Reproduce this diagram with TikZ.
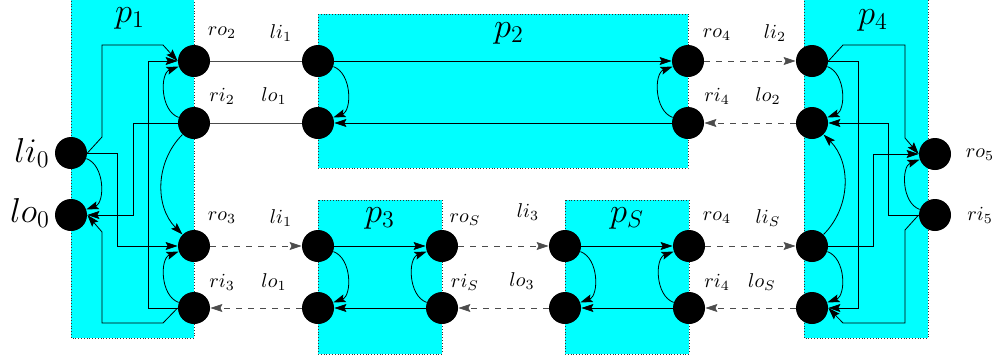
\documentclass[tikz,border=0pt]{standalone}
\usetikzlibrary{arrows.meta}
\definecolor{aqua}{RGB}{0,255,255}
\begin{document}
\begin{tikzpicture}[>={Stealth[length=6pt,width=4pt,inset=1pt]}, x=0.5pt, y=-0.5pt,
    port/.style={circle, fill=black, inner sep=0pt, minimum size=16pt},
    proc/.style={fill=aqua, draw=black!80, densely dotted},
    link/.style={->, dashed, black!70}]
  \useasboundingbox (0,0) rectangle (996,360);

  % processes
  \foreach \n/\xa/\ya/\xb/\yb/\lx/\ly in {1/71/-2/194/338/130/18, 2/318/14/688/168/509/33,
      3/318/200/442/354/380/218, S/565/200/689/354/627/218, 4/804/-2/928/338/873/20} {
    \draw[proc] (\xa,\ya) rectangle (\xb,\yb);
    \node (p\n) at (\lx,\ly) {\LARGE $p_\n$};
  }

  % ports
  \foreach \name/\x/\y in {li0/71/153, lo0/71/215, ro2/194/61, ri2/194/123, ro3/194/246, ri3/194/308,
      li1/318/61, lo1/318/123, ro4/688/61, ri4/688/123,
      li1b/318/246, lo1b/318/308, roS/442/246, riS/442/308,
      li3/565/246, lo3/565/308, ro4b/689/246, ri4b/689/308,
      li2/812/61, lo2/812/123, liS/812/246, loS/812/308, ro5/935/154, ri5/935/215}
    \node[port] (\name) at (\x,\y) {};

  % port names
  \node (tli0) at (32,153) {\LARGE $li_0$};
  \node (tlo0) at (30,213) {\LARGE $lo_0$};
  \foreach \x/\y/\t [count=\i] in {222/33/ro_2, 281/33/li_1, 222/96/ri_2, 274/96/lo_1,
      222/218/ro_3, 281/218/li_1, 222/282/ri_3, 274/282/lo_1,
      465/220/ro_S, 528/212/li_3, 465/282/ri_S, 522/281/lo_3,
      717/35/ro_4, 775/33/li_2, 717/96/ri_4, 768/96/lo_2,
      717/218/ro_4, 768/218/li_S, 717/282/ri_4, 762/282/lo_S,
      980/155/ro_5, 980/215/ri_5}
    \node (t\i) at (\x,\y) {$\t$};

  % between processes
  \draw[black!70] (ro2) -- (li1);
  \draw[black!70] (ri2) -- (lo1);
  \foreach \pa/\pb in {ro3/li1b, lo1b/ri3, roS/li3, lo3/riS, ro4b/liS, loS/ri4b, ro4/li2, lo2/ri4}
    \draw[link] (\pa) -- (\pb);

  % inside p2, p3 and pS
  \foreach \pa/\pb/\pc/\pd in {li1/lo1/ro4/ri4, li1b/lo1b/roS/riS, li3/lo3/ro4b/ri4b} {
    \draw[->] (\pa) -- (\pc);
    \draw[->] (\pd) -- (\pb);
    \draw[->] (\pa) to[bend left=70] (\pb);
    \draw[->] (\pd) to[bend left=70] (\pc);
  }

  % inside p1
  \draw[->] (li0.east) -- (102,137) -- (102,45) -- (163,45) -- (ro2.west);
  \draw[->] (li0.east) -- (117,153) |- (ro3);
  \draw[->] (ri2.west) -- (133,123) |- (lo0);
  \draw[->] (ri3.west) -- (148,308) |- (ro2);
  \draw[->] (ri3.west) -- (163,323) -- (102,323) -- (102,232) -- (lo0.east);
  \draw[->] (li0) to[bend left=70] (lo0);
  \draw[->] (ri2) to[bend left=70] (ro2);
  \draw[->] (ri2) to[bend right=45] (ro3);
  \draw[->] (ri3) to[bend left=70] (ro3);

  % inside p4
  \draw[->] (li2.east) -- (843,45) -- (905,45) -- (905,138) -- (ro5.west);
  \draw[->] (li2.east) -- (858,61) |- (loS);
  \draw[->] (liS.east) -- (873,246) |- (ro5);
  \draw[->] (ri5.west) -- (888,215) |- (lo2);
  \draw[->] (ri5.west) -- (905,230) -- (905,323) -- (843,323) -- (loS.east);
  \draw[->] (li2) to[bend left=70] (lo2);
  \draw[->] (liS) to[bend right=45] (lo2);
  \draw[->] (liS) to[bend left=70] (loS);
  \draw[->] (ri5) to[bend left=70] (ro5);
\end{tikzpicture}
\end{document}
